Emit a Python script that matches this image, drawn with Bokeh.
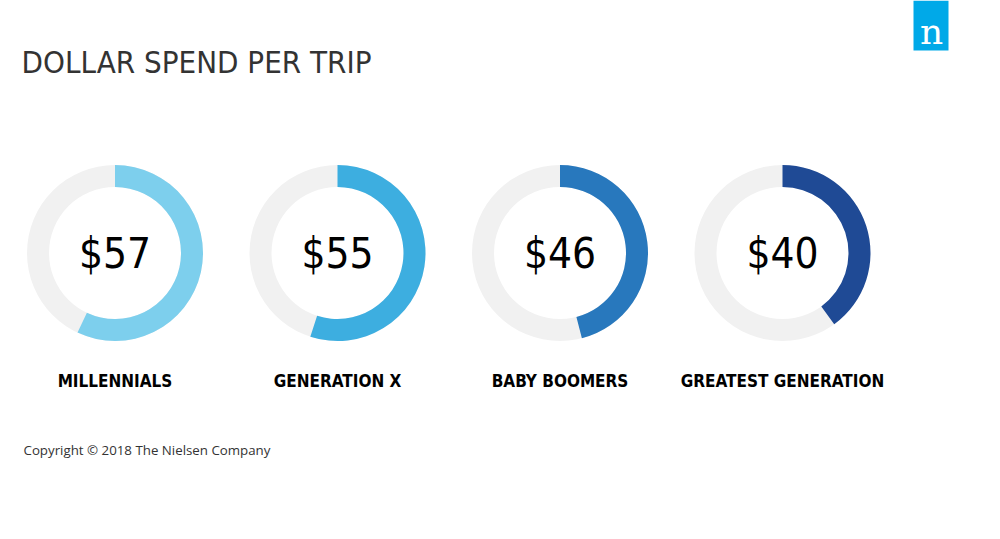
import math
from bokeh.plotting import figure
from bokeh.models import Range1d, ColumnDataSource
from bokeh.core.properties import value
from bokeh.embed import file_html
from bokeh.resources import INLINE

# ---- data ----
generations = ["MILLENNIALS", "GENERATION X", "BABY BOOMERS", "GREATEST GENERATION"]
spend = [57, 55, 46, 40]
scale_max = 100
arc_colors = ["#7dcfed", "#3daee0", "#2878bd", "#1f4a95"]
title_text = "DOLLAR SPEND PER TRIP"
footer_text = "Copyright \u00a9 2018 The Nielsen Company"

COND = value("DejaVu Sans Condensed")

# ---- layout (page-pixel coordinates, y negative downward) ----
W, H = 984, 523
p = figure(width=W, height=H, output_backend="svg", toolbar_location=None,
           x_range=Range1d(0, W), y_range=Range1d(-H, 0),
           min_border=0, outline_line_color=None, background_fill_color="white",
           border_fill_color="white")
p.axis.visible = False
p.grid.visible = False

cx = [114.5 + 222.5 * i for i in range(len(spend))]
cy = [-252.5] * len(spend)
start = [math.pi / 2] * len(spend)
end = [math.pi / 2 - 2 * math.pi * v / scale_max for v in spend]

src = ColumnDataSource(dict(x=cx, y=cy, start=start, end=end, color=arc_colors,
                            val=["$%d" % v for v in spend], label=generations,
                            ly=[-380] * len(spend)))

p.annulus(x="x", y="y", inner_radius=66, outer_radius=88, fill_color="#f1f1f1",
          line_color=None, source=src)
p.annular_wedge(x="x", y="y", inner_radius=66, outer_radius=88,
                start_angle="start", end_angle="end", direction="clock",
                fill_color="color", line_color=None, source=src)

p.text(x="x", y="y", text="val", source=src, text_align="center",
       text_baseline="middle", text_font=COND,
       text_font_size="42px", text_color="#000000")
p.text(x="x", y="ly", text="label", source=src, text_align="center",
       text_baseline="middle", text_font=COND,
       text_font_size="17px", text_color="#000000", text_font_style="bold")

# title
p.text(x=[21], y=[-61], text=[title_text], text_align="left", text_baseline="middle",
       text_font=COND, text_font_size="31px",
       text_color="#333333")

# footer
p.text(x=[23], y=[-449], text=[footer_text], text_align="left", text_baseline="middle",
       text_font=value("Open Sans"), text_font_size="13.3px", text_color="#333333")

# logo
p.quad(left=[913], right=[948], top=[0], bottom=[-50], fill_color="#00a9e8",
       line_color=None)
p.text(x=[931], y=[-31], text=["n"], text_align="center", text_baseline="middle",
       text_font=value("DejaVu Serif"), text_font_size="36px", text_color="white")

open("out.html", "w").write(file_html(p, INLINE))
